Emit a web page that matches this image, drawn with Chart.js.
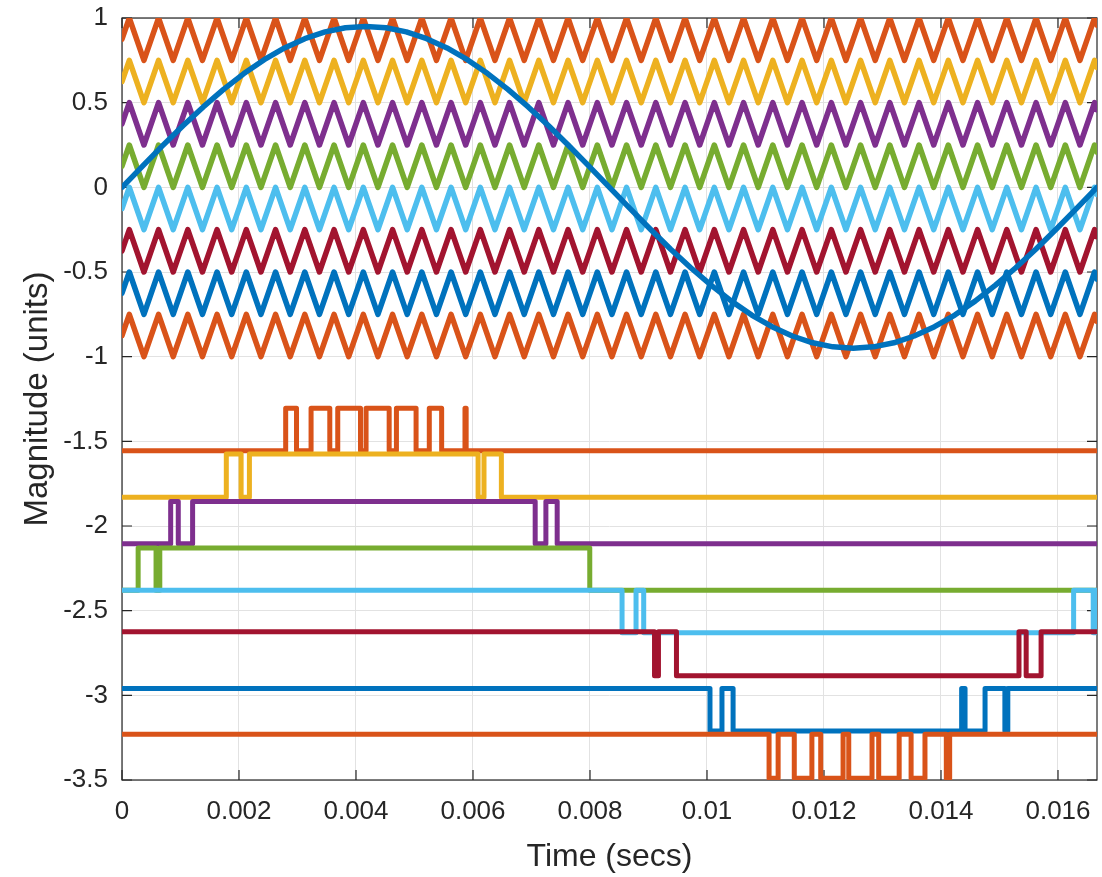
<!DOCTYPE html>
<html>
<head>
<meta charset="utf-8">
<script src="https://cdn.jsdelivr.net/npm/chart.js@4.4.1/dist/chart.umd.min.js"></script>
<style>
  html, body { margin: 0; padding: 0; background: #fff; }
</style>
</head>
<body>
<canvas id="chart" width="1102" height="877"></canvas>
<script>
// time axis (seconds), one 60 Hz cycle
const xMax = 0.0166667;
const xTicks = [0, 0.002, 0.004, 0.006, 0.008, 0.010, 0.012, 0.014, 0.016];
const xTickLabels = ['0', '0.002', '0.004', '0.006', '0.008', '0.01', '0.012', '0.014', '0.016'];
const yTicks = [1, 0.5, 0, -0.5, -1, -1.5, -2, -2.5, -3, -3.5];
const yTickLabels = ['1', '0.5', '0', '-0.5', '-1', '-1.5', '-2', '-2.5', '-3', '-3.5'];

// reference sine
const sineT = [0, 0.000347, 0.000694, 0.001042, 0.001389, 0.001736, 0.002083, 0.002431, 0.002778, 0.003125,
  0.003472, 0.003819, 0.004167, 0.004514, 0.004861, 0.005208, 0.005556, 0.005903, 0.00625, 0.006597,
  0.006944, 0.007292, 0.007639, 0.007986, 0.008333, 0.008681, 0.009028, 0.009375, 0.009722, 0.010069,
  0.010417, 0.010764, 0.011111, 0.011458, 0.011806, 0.012153, 0.0125, 0.012847, 0.013194, 0.013542,
  0.013889, 0.014236, 0.014583, 0.014931, 0.015278, 0.015625, 0.015972, 0.016319, 0.0166667];
const sineV = [0, 0.124, 0.246, 0.364, 0.475, 0.578, 0.672, 0.754, 0.823, 0.878,
  0.918, 0.942, 0.95, 0.942, 0.918, 0.878, 0.823, 0.754, 0.672, 0.578,
  0.475, 0.364, 0.246, 0.124, 0, -0.124, -0.246, -0.364, -0.475, -0.578,
  -0.672, -0.754, -0.823, -0.878, -0.918, -0.942, -0.95, -0.942, -0.918, -0.878,
  -0.823, -0.754, -0.672, -0.578, -0.475, -0.364, -0.246, -0.124, 0];

// triangle carriers: corner times and shape (0 = bottom of band, 1 = top)
const carrierT = [0, 0.000125, 0.000375, 0.000625, 0.000875, 0.001125, 0.001375, 0.001625, 0.001875, 0.002125,
  0.002375, 0.002625, 0.002875, 0.003125, 0.003375, 0.003625, 0.003875, 0.004125, 0.004375, 0.004625,
  0.004875, 0.005125, 0.005375, 0.005625, 0.005875, 0.006125, 0.006375, 0.006625, 0.006875, 0.007125,
  0.007375, 0.007625, 0.007875, 0.008125, 0.008375, 0.008625, 0.008875, 0.009125, 0.009375, 0.009625,
  0.009875, 0.010125, 0.010375, 0.010625, 0.010875, 0.011125, 0.011375, 0.011625, 0.011875, 0.012125,
  0.012375, 0.012625, 0.012875, 0.013125, 0.013375, 0.013625, 0.013875, 0.014125, 0.014375, 0.014625,
  0.014875, 0.015125, 0.015375, 0.015625, 0.015875, 0.016125, 0.016375, 0.016625, 0.0166667];
const carrierShape = [0.5, 1, 0, 1, 0, 1, 0, 1, 0, 1,
  0, 1, 0, 1, 0, 1, 0, 1, 0, 1,
  0, 1, 0, 1, 0, 1, 0, 1, 0, 1,
  0, 1, 0, 1, 0, 1, 0, 1, 0, 1,
  0, 1, 0, 1, 0, 1, 0, 1, 0, 1,
  0, 1, 0, 1, 0, 1, 0, 1, 0, 1,
  0, 1, 0, 1, 0, 1, 0, 1, 0.833];
const carrierBase = [0.75, 0.5, 0.25, 0, -0.25, -0.5, -0.75, -1];
const carrierSpan = 0.25;

// PWM outputs: switching times, low/high levels, starting state
const pwmEdges = [
  [0.002798, 0.002983, 0.003232, 0.003552, 0.003688, 0.004077, 0.004172, 0.004567, 0.004691, 0.005027, 0.005253, 0.005464, 0.005863, 0.005883],
  [0.001783, 0.002036, 0.002178, 0.006087, 0.006188, 0.006485],
  [0.000832, 0.000962, 0.001207, 0.007063, 0.007246, 0.007439],
  [0.000276, 0.000582, 0.000646, 0.007996],
  [0.008548, 0.008787, 0.008918, 0.016267, 0.016602, 0.016636],
  [0.009103, 0.009170, 0.009478, 0.015333, 0.015456, 0.015711],
  [0.010051, 0.010256, 0.010446, 0.014353, 0.014411, 0.014753, 0.015092, 0.015142],
  [0.011061, 0.011216, 0.011492, 0.011793, 0.011944, 0.012326, 0.012423, 0.012821, 0.012935, 0.013285, 0.013489, 0.013726, 0.014091, 0.014148]
];
const pwmLow = [-1.555, -1.83, -2.105, -2.38, -2.63, -2.885, -3.21, -3.49];
const pwmHigh = [-1.305, -1.575, -1.855, -2.13, -2.38, -2.625, -2.96, -3.23];
const pwmStartHigh = [false, false, false, false, true, true, true, true];

// matlab colour order
const C = {
  blue: '#0072BD', orange: '#D95319', yellow: '#EDB120', purple: '#7E2F8E',
  green: '#77AC30', cyan: '#4DBEEE', red: '#A2142F'
};
const bandColors = [C.orange, C.yellow, C.purple, C.green, C.cyan, C.red, C.blue, C.orange];

const fontFamily = "'Liberation Sans', Arial, Helvetica, sans-serif";
const axisColor = '#262626';

function stepPoints(edges, lo, hi, startHigh) {
  let state = startHigh;
  const pts = [{ x: 0, y: state ? hi : lo }];
  edges.forEach(function (t) {
    pts.push({ x: t, y: state ? hi : lo });
    state = !state;
    pts.push({ x: t, y: state ? hi : lo });
  });
  pts.push({ x: xMax, y: state ? hi : lo });
  return pts;
}

const datasets = [];
datasets.push({
  label: 'sine',
  data: sineT.map((t, i) => ({ x: t, y: sineV[i] })),
  borderColor: C.blue,
  borderWidth: 5.5,
  order: 0
});
carrierBase.forEach(function (b, j) {
  datasets.push({
    label: 'carrier ' + (j + 1),
    data: carrierT.map((t, i) => ({ x: t, y: b + carrierSpan * carrierShape[i] })),
    borderColor: bandColors[j],
    borderWidth: 5.5,
    order: 30 - j
  });
});
pwmEdges.forEach(function (edges, j) {
  datasets.push({
    label: 'pwm ' + (j + 1),
    data: stepPoints(edges, pwmLow[j], pwmHigh[j], pwmStartHigh[j]),
    borderColor: bandColors[j],
    borderWidth: 5,
    order: 20 - j
  });
});

// box and inward ticks, drawn under the lines like matlab
const matlabBox = {
  id: 'matlabBox',
  beforeDatasetsDraw(chart) {
    const ctx = chart.ctx;
    const a = chart.chartArea;
    const x = chart.scales.x, y = chart.scales.y;
    ctx.save();
    ctx.strokeStyle = axisColor;
    ctx.lineWidth = 1.2;
    ctx.strokeRect(a.left, a.top, a.right - a.left, a.bottom - a.top);
    ctx.beginPath();
    xTicks.forEach(function (v) {
      const px = x.getPixelForValue(v);
      ctx.moveTo(px, a.bottom); ctx.lineTo(px, a.bottom - 10);
      ctx.moveTo(px, a.top); ctx.lineTo(px, a.top + 10);
    });
    yTicks.forEach(function (v) {
      const py = y.getPixelForValue(v);
      ctx.moveTo(a.left, py); ctx.lineTo(a.left + 10, py);
      ctx.moveTo(a.right, py); ctx.lineTo(a.right - 10, py);
    });
    ctx.stroke();
    ctx.restore();
  }
};

new Chart(document.getElementById('chart').getContext('2d'), {
  type: 'line',
  data: { datasets: datasets },
  options: {
    responsive: false,
    animation: false,
    layout: { padding: { left: 0, right: 5, top: 18, bottom: 0 } },
    plugins: { legend: { display: false }, tooltip: { enabled: false } },
    elements: {
      point: { radius: 0 },
      line: { tension: 0, borderJoinStyle: 'round', borderCapStyle: 'round', fill: false }
    },
    scales: {
      x: {
        type: 'linear',
        min: 0,
        max: xMax,
        afterBuildTicks: function (s) { s.ticks = xTicks.map(v => ({ value: v })); },
        afterFit: function (s) { s.height = 97; s.paddingLeft = 0; s.paddingRight = 0; },
        ticks: {
          callback: function (v, i) { return xTickLabels[i]; },
          font: { family: fontFamily, size: 26 },
          color: axisColor,
          padding: 16,
          maxRotation: 0,
          autoSkip: false
        },
        grid: { color: '#e2e2e2', lineWidth: 1, drawTicks: false },
        border: { display: false },
        title: {
          display: true,
          text: 'Time (secs)',
          font: { family: fontFamily, size: 32 },
          color: axisColor,
          padding: { top: 0, bottom: 1 }
        }
      },
      y: {
        type: 'linear',
        min: -3.5,
        max: 1,
        afterBuildTicks: function (s) { s.ticks = yTicks.map(v => ({ value: v })); },
        afterFit: function (s) { s.width = 122; s.paddingTop = 0; s.paddingBottom = 0; },
        ticks: {
          callback: function (v, i) { return yTickLabels[i]; },
          font: { family: fontFamily, size: 26 },
          color: axisColor,
          padding: 14,
          autoSkip: false
        },
        grid: { color: '#e2e2e2', lineWidth: 1, drawTicks: false },
        border: { display: false },
        title: {
          display: true,
          text: 'Magnitude (units)',
          font: { family: fontFamily, size: 33 },
          color: axisColor,
          padding: { top: 18, bottom: 0 }
        }
      }
    }
  },
  plugins: [matlabBox]
});
</script>
</body>
</html>
